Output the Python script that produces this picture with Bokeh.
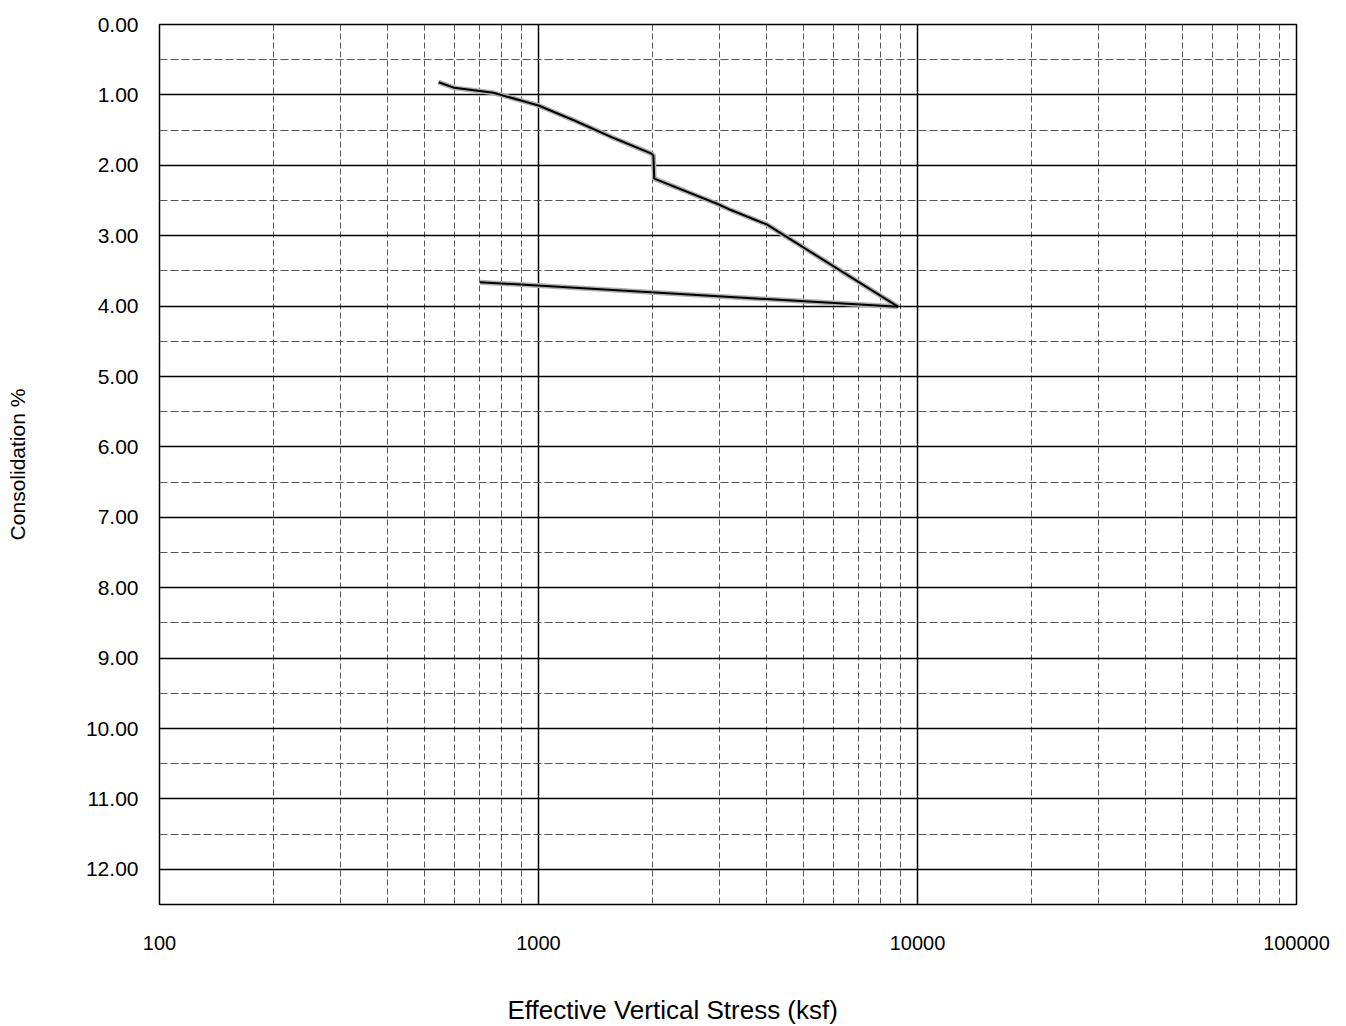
from bokeh.plotting import figure
from bokeh.models import FixedTicker, PrintfTickFormatter, Range1d, Title
from bokeh.embed import file_html
from bokeh.resources import INLINE

# Loading curve (stress in ksf, consolidation %)
load_stress = [545, 600, 760, 1000, 1239, 1591, 1980, 2010, 2020, 2970, 3170, 4000, 8900]
load_consol = [0.82, 0.90, 0.97, 1.15, 1.36, 1.62, 1.83, 1.86, 2.19, 2.55, 2.62, 2.84, 4.01]

# Unloading curve
unload_stress = [8900, 700]
unload_consol = [4.01, 3.66]

x_major = [100, 1000, 10000, 100000]
x_minor = [m * d for d in (100, 1000, 10000) for m in range(2, 10)]
y_major = list(range(0, 13))
y_minor = [i + 0.5 for i in range(0, 13)]

FONT = "Liberation Sans"

p = figure(width=1336, height=1025, x_axis_type="log",
           output_backend="svg", toolbar_location=None,
           x_range=Range1d(100, 100000), y_range=Range1d(12.5, 0),
           min_border_left=159, min_border_right=40,
           min_border_top=24, min_border_bottom=121)

p.outline_line_color = "black"
p.outline_line_width = 1.5
p.background_fill_color = "white"
p.border_fill_color = "white"

# X axis
p.xaxis.ticker = FixedTicker(ticks=x_major, minor_ticks=x_minor)
p.xaxis.formatter = PrintfTickFormatter(format="%d")
p.xaxis.axis_line_color = None
p.xaxis.major_tick_line_color = None
p.xaxis.minor_tick_line_color = None
p.xaxis.major_label_standoff = 25
p.xaxis.major_label_text_font = FONT
p.xaxis.major_label_text_font_size = "20px"
p.xaxis.major_label_text_color = "black"

# X axis title: a blank spacer, then the title left of centre as in the reference
p.add_layout(Title(text=" ", text_font_size="1px", standoff=37), "below")
p.add_layout(Title(text="Effective Vertical Stress (ksf)", align="left", offset=348,
                   text_font=FONT, text_font_size="26px", text_font_style="normal",
                   text_color="black", standoff=0), "below")

# Y axis
p.yaxis.ticker = FixedTicker(ticks=y_major, minor_ticks=y_minor)
p.yaxis.formatter = PrintfTickFormatter(format="%.2f")
p.yaxis.axis_line_color = None
p.yaxis.major_tick_line_color = None
p.yaxis.minor_tick_line_color = None
p.yaxis.major_label_standoff = 15
p.yaxis.major_label_text_font = FONT
p.yaxis.major_label_text_font_size = "21px"
p.yaxis.major_label_text_color = "black"

# Y axis title: a blank spacer, then the title slightly above centre
p.add_layout(Title(text=" ", text_font_size="1px", standoff=51), "left")
p.add_layout(Title(text="Consolidation %", align="center", offset=21,
                   text_font=FONT, text_font_size="21px", text_font_style="normal",
                   text_color="black", standoff=0), "left")

# Grids
p.xgrid.grid_line_color = "black"
p.xgrid.grid_line_width = 1.5
p.xgrid.minor_grid_line_color = "#555555"
p.xgrid.minor_grid_line_width = 1
p.xgrid.minor_grid_line_dash = "6 3"

p.ygrid.grid_line_color = "black"
p.ygrid.grid_line_width = 1.5
p.ygrid.minor_grid_line_color = "#555555"
p.ygrid.minor_grid_line_width = 1
p.ygrid.minor_grid_line_dash = "8 3"

# Curves (gray halo under black line, as in the scan)
p.line(load_stress, load_consol, line_color="#b0b0b0", line_width=5)
p.line(unload_stress, unload_consol, line_color="#b0b0b0", line_width=5)
p.line(load_stress, load_consol, line_color="black", line_width=2)
p.line(unload_stress, unload_consol, line_color="black", line_width=2)

open("out.html", "w").write(file_html(p, INLINE))
